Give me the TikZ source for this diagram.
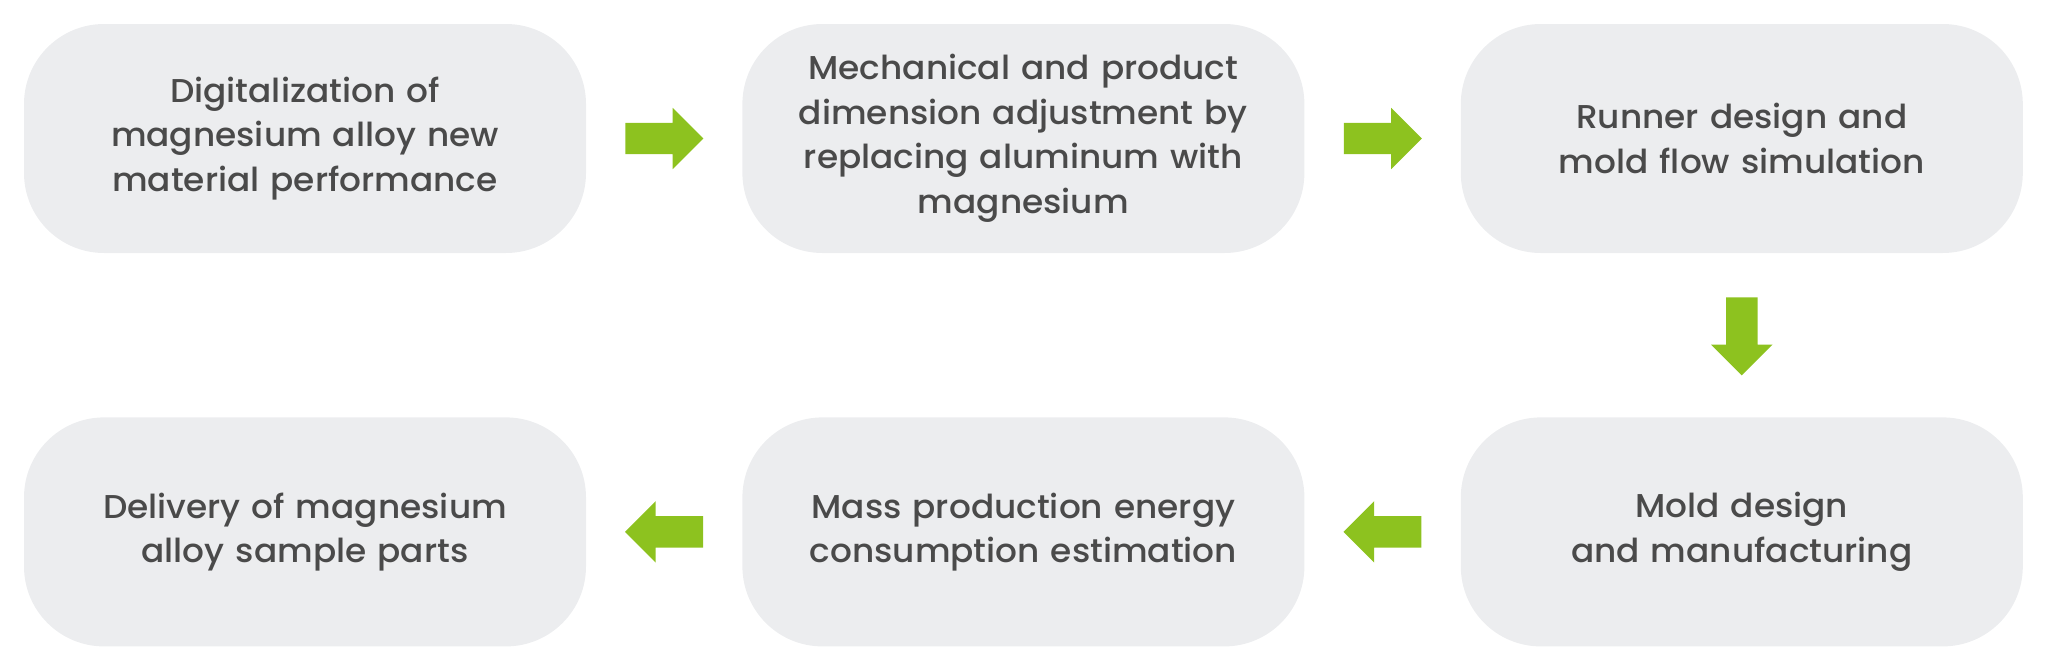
\documentclass[tikz,border=0pt]{standalone}
\usepackage{fontspec}
\setmainfont{Poppins}[UprightFont = * Medium, FakeStretch = 1.04]
\usetikzlibrary{positioning,calc,shapes.arrows}
\definecolor{boxgray}{HTML}{ECEDEF}
\definecolor{arrowgreen}{HTML}{8DC21F}
\definecolor{textgray}{HTML}{4A4A4A}
\begin{document}
\begin{tikzpicture}[x = 1pt, y = 1pt, font = \fontsize{33}{44.5}\selectfont,
	pbox/.style = {fill = boxgray, rounded corners = 80pt, minimum width = 562pt, minimum height = 229pt,
		text width = 540pt, align = center, text = textgray, inner sep = 0pt},
	parrow/.style = {single arrow, fill = arrowgreen, draw = none, inner sep = 15.5pt, anchor = tail,
		minimum height = 78pt, minimum width = 1pt, single arrow head extend = 15pt}]
	\def\g{156pt}  %khoảng cách ngang giữa các khối
	\def\v{164pt}  %khoảng cách dọc giữa hai hàng
	\useasboundingbox (0,0) rectangle (2048,-670);
	% hàng trên
	\node[pbox] (B1) at (305,-138.5) {Digitalization of\\ magnesium alloy new\\ material performance};
	\node[pbox, right = \g of B1] (B2) {Mechanical and product\\ dimension adjustment by\\ replacing aluminum with\\ magnesium};
	\node[pbox, right = \g of B2] (B3) {Runner design and\\ mold flow simulation};
	% hàng dưới
	\node[pbox, below = \v of B3] (B4) {Mold design\\ and manufacturing};
	\node[pbox, left = \g of B4] (B5) {Mass production energy\\ consumption estimation};
	\node[pbox, left = \g of B5] (B6) {Delivery of magnesium\\ alloy sample parts};
	% mũi tên
	\node[parrow] (A12) at ($(B1.east)+(39,0)$) {};
	\node[parrow] (A23) at ($(B2.east)+(39,0)$) {};
	\node[parrow, shape border rotate = 270] (A34) at ($(B3.south)+(0,-44)$) {};
	\node[parrow, shape border rotate = 180] (A45) at ($(B4.west)+(-39,0)$) {};
	\node[parrow, shape border rotate = 180] (A56) at ($(B5.west)+(-39,0)$) {};
\end{tikzpicture}
\end{document}
